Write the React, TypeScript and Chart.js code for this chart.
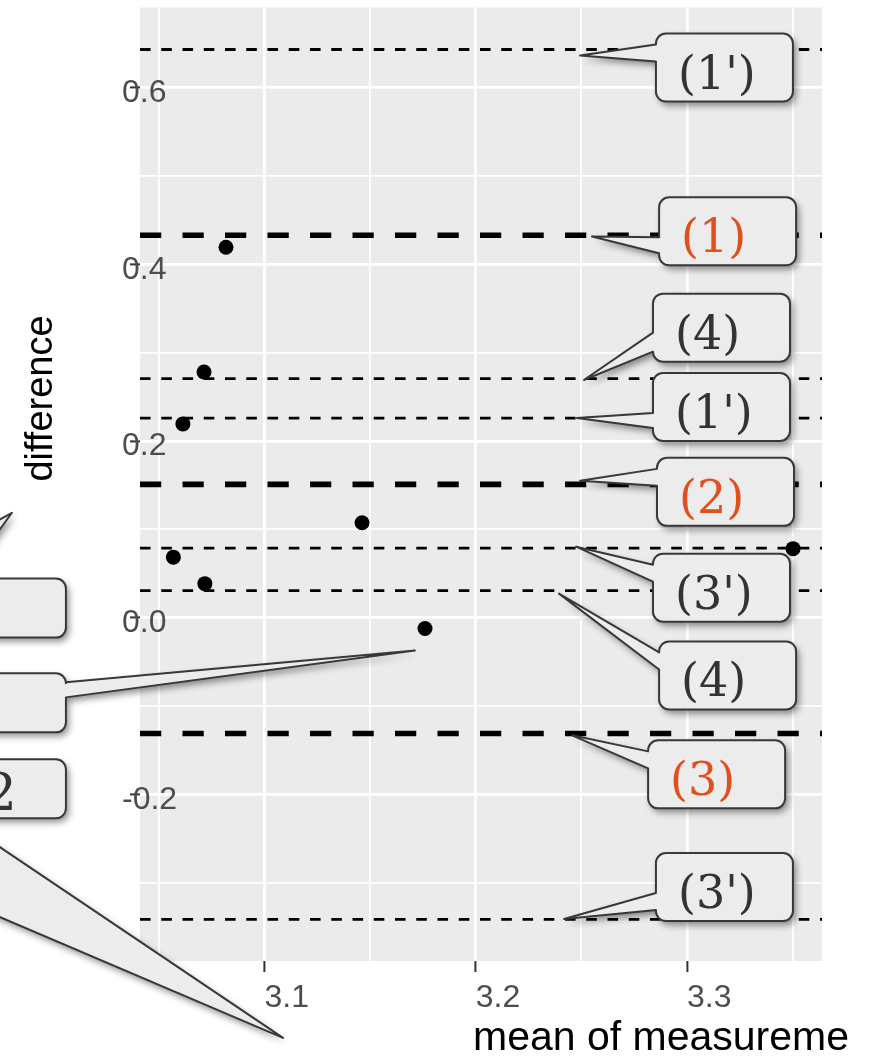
import React, { useEffect, useRef } from 'react';
import { Chart, registerables } from 'chart.js';

Chart.register(...registerables);

// ---------------- data ----------------
const X_MIN = 3.0411;
const X_MAX = 3.3639;
const Y_MIN = -0.3883;
const Y_MAX = 0.6904;

const X_MAJOR_TICKS = [3.1, 3.2, 3.3];
const X_TICK_LABELS = ['3.1', '3.2', '3.3'];
const X_MINOR_TICKS = [3.05, 3.15, 3.25, 3.35];
const Y_MAJOR_TICKS = [-0.2, 0.0, 0.2, 0.4, 0.6];
const Y_TICK_LABELS = ['-0.2', '0.0', '0.2', '0.4', '0.6'];
const Y_MINOR_TICKS = [-0.3, -0.1, 0.1, 0.3, 0.5];

// Bland-Altman points: mean of measurements vs difference
const MEAN_VALUES = [3.0818, 3.0714, 3.0614, 3.1462, 3.0569, 3.0718, 3.176, 3.3502];
const DIFF_VALUES = [0.4192, 0.2781, 0.2193, 0.1075, 0.0686, 0.0386, -0.0122, 0.0782];

// (1) upper limit, (2) mean difference, (3) lower limit
const LIMIT_LINES = [0.4327, 0.1509, -0.1309];
// confidence bounds: (1') x2, (4) x2, (3') x2
const CI_LINES = [0.6429, 0.2705, 0.2258, 0.0789, 0.0307, -0.3412];

const X_TITLE = 'mean of measureme';
const Y_TITLE = 'difference';

// callouts on the right (anchored in data coordinates)
const CALLOUT_LABELS = ["(1')", '(1)', '(4)', "(1')", '(2)', "(3')", '(4)', '(3)', "(3')"];
const CALLOUT_ACCENT = [false, true, false, false, true, false, false, true, false];
const CALLOUT_TIP_X = [3.2494, 3.255, 3.2512, 3.2479, 3.2494, 3.2475, 3.2394, 3.2456, 3.2418];
const CALLOUT_TIP_Y = [0.6361, 0.4313, 0.269, 0.2261, 0.155, 0.0804, 0.0273, -0.133, -0.3408];
const CALLOUT_BOX_X = [3.2853, 3.2868, 3.2839, 3.2839, 3.2858, 3.2839, 3.2868, 3.2816, 3.2853];
const CALLOUT_BOX_Y = [0.6609, 0.4757, 0.3667, 0.2769, 0.1809, 0.0725, -0.0268, -0.1387, -0.2662];

// cropped callouts on the left
const SIDE_BOX_X = 2.9412;
const SIDE_BOX_Y = [0.0443, -0.0629, -0.1601];
const SIDE_LABELS = ['', '', '2'];
const SIDE_TIP_X = [null, 3.1712, null];
const SIDE_TIP_Y = [null, -0.037, null];

// loose pointers whose boxes are outside the picture
const STRAY_TIP_X = [3.1088, 2.9805];
const STRAY_TIP_Y = [-0.4753, 0.1188];
const STRAY_BASE_X = [2.9653, 2.9653];
const STRAY_BASE_Y1 = [-0.2443, 0.0985];
const STRAY_BASE_Y2 = [-0.3289, 0.0691];

// ---------------- styles ----------------
const SANS = '"Liberation Sans", Arial, Helvetica, sans-serif';
const SERIF = '"DejaVu Serif", "Liberation Serif", serif';
const BOX_W = 137;
const BOX_H = 68;
const SIDE_BOX_H = 59;
const BOX_R = 10;
const CALLOUT_NECKS = [[11, 28], [40, 56], [39, 58], [40, 55], [11, 28], [11, 28], [11, 28], [11, 28], [40, 57]];
const SIDE_NECK = [9, 24];
const DARK_TEXT = '#333333';
const ACCENT_TEXT = '#E0501E';

const near = (a: number, b: number) => Math.abs(a - b) < 1e-6;
const isIn = (arr: number[], v: number) => arr.some((a) => near(a, v));

function calloutPath(
  ctx: CanvasRenderingContext2D,
  L: number, T: number, W: number, H: number, r: number,
  neck: { side: 'left' | 'right'; a1: number; a2: number; tx: number; ty: number } | null
) {
  const R = L + W;
  const B = T + H;
  ctx.beginPath();
  ctx.moveTo(L + r, T);
  ctx.lineTo(R - r, T);
  ctx.arcTo(R, T, R, T + r, r);
  if (neck && neck.side === 'right') {
    ctx.lineTo(R, T + neck.a1);
    ctx.lineTo(neck.tx, neck.ty);
    ctx.lineTo(R, T + neck.a2);
  }
  ctx.lineTo(R, B - r);
  ctx.arcTo(R, B, R - r, B, r);
  ctx.lineTo(L + r, B);
  ctx.arcTo(L, B, L, B - r, r);
  if (neck && neck.side === 'left') {
    ctx.lineTo(L, T + neck.a2);
    ctx.lineTo(neck.tx, neck.ty);
    ctx.lineTo(L, T + neck.a1);
  }
  ctx.lineTo(L, T + r);
  ctx.arcTo(L, T, L + r, T, r);
  ctx.closePath();
}

function paintShape(ctx: CanvasRenderingContext2D) {
  ctx.save();
  ctx.shadowColor = 'rgba(0,0,0,0.45)';
  ctx.shadowBlur = 7;
  ctx.shadowOffsetX = 3;
  ctx.shadowOffsetY = 4;
  ctx.fillStyle = '#ECECEC';
  ctx.fill();
  ctx.restore();
  ctx.lineWidth = 2;
  ctx.lineJoin = 'round';
  ctx.strokeStyle = '#383838';
  ctx.stroke();
}

const panelPlugin = {
  id: 'panelBg',
  beforeDraw(chart: any) {
    const { ctx, chartArea: a } = chart;
    ctx.save();
    ctx.fillStyle = '#EBEBEB';
    ctx.fillRect(a.left, a.top, a.right - a.left, a.bottom - a.top);
    ctx.restore();
  },
};

const overlayPlugin = {
  id: 'overlay',
  afterDraw(chart: any) {
    const { ctx } = chart;
    const xs = chart.scales.x;
    const ys = chart.scales.y;
    const px = (v: number) => xs.getPixelForValue(v);
    const py = (v: number) => ys.getPixelForValue(v);

    // axis titles
    ctx.save();
    ctx.fillStyle = '#000000';
    ctx.font = `41px ${SANS}`;
    ctx.textAlign = 'left';
    ctx.textBaseline = 'alphabetic';
    ctx.fillText(X_TITLE, 473, 1050);
    ctx.translate(52, 398.5);
    ctx.rotate(-Math.PI / 2);
    ctx.font = `38px ${SANS}`;
    ctx.textAlign = 'center';
    ctx.fillText(Y_TITLE, 0, 0);
    ctx.restore();

    // stray pointers
    for (let i = 0; i < STRAY_TIP_X.length; i++) {
      ctx.save();
      ctx.beginPath();
      ctx.moveTo(px(STRAY_BASE_X[i]), py(STRAY_BASE_Y1[i]));
      ctx.lineTo(px(STRAY_TIP_X[i]), py(STRAY_TIP_Y[i]));
      ctx.lineTo(px(STRAY_BASE_X[i]), py(STRAY_BASE_Y2[i]));
      ctx.closePath();
      paintShape(ctx);
      ctx.restore();
    }

    // left cropped callouts
    for (let i = 0; i < SIDE_BOX_Y.length; i++) {
      const L = px(SIDE_BOX_X);
      const T = py(SIDE_BOX_Y[i]);
      const tx = SIDE_TIP_X[i];
      const ty = SIDE_TIP_Y[i];
      ctx.save();
      calloutPath(
        ctx, L, T, BOX_W, SIDE_BOX_H, BOX_R,
        tx != null && ty != null
          ? { side: 'right', a1: SIDE_NECK[0], a2: SIDE_NECK[1], tx: px(tx), ty: py(ty) }
          : null
      );
      paintShape(ctx);
      if (SIDE_LABELS[i]) {
        ctx.fillStyle = DARK_TEXT;
        ctx.font = `52px ${SERIF}`;
        ctx.textAlign = 'right';
        ctx.textBaseline = 'alphabetic';
        ctx.fillText(SIDE_LABELS[i], L + BOX_W - 49, T + 51);
      }
      ctx.restore();
    }

    // right callouts
    for (let i = 0; i < CALLOUT_LABELS.length; i++) {
      const L = px(CALLOUT_BOX_X[i]);
      const T = py(CALLOUT_BOX_Y[i]);
      ctx.save();
      calloutPath(ctx, L, T, BOX_W, BOX_H, BOX_R, {
        side: 'left',
        a1: CALLOUT_NECKS[i][0],
        a2: CALLOUT_NECKS[i][1],
        tx: px(CALLOUT_TIP_X[i]),
        ty: py(CALLOUT_TIP_Y[i]),
      });
      paintShape(ctx);
      ctx.fillStyle = CALLOUT_ACCENT[i] ? ACCENT_TEXT : DARK_TEXT;
      ctx.font = `46px ${SERIF}`;
      ctx.textAlign = 'left';
      ctx.textBaseline = 'alphabetic';
      ctx.fillText(CALLOUT_LABELS[i], L + 22, T + 55);
      ctx.restore();
    }
  },
};

export default function App() {
  const ref = useRef<HTMLCanvasElement>(null);

  useEffect(() => {
    document.body.style.margin = '0';
    const canvas = ref.current;
    if (!canvas) return;

    const pointData = MEAN_VALUES.map((x, i) => ({ x, y: DIFF_VALUES[i] }));
    const hline = (v: number) => [{ x: X_MIN, y: v }, { x: X_MAX, y: v }];

    const datasets: any[] = [
      {
        label: 'points',
        data: pointData,
        showLine: false,
        pointRadius: 7.5,
        pointBackgroundColor: '#000000',
        pointBorderWidth: 0,
        pointHoverRadius: 7.5,
      },
      ...LIMIT_LINES.map((v) => ({
        label: 'limit',
        data: hline(v),
        showLine: true,
        borderColor: '#000000',
        borderWidth: 5.6,
        borderDash: [21.25, 21.25],
        pointRadius: 0,
        tension: 0,
      })),
      ...CI_LINES.map((v) => ({
        label: 'ci',
        data: hline(v),
        showLine: true,
        borderColor: '#000000',
        borderWidth: 2.8,
        borderDash: [10.6, 10.65],
        pointRadius: 0,
        tension: 0,
      })),
    ];

    const chart = new Chart(canvas, {
      type: 'scatter',
      data: { datasets },
      options: {
        animation: false,
        responsive: false,
        devicePixelRatio: 1,
        events: [],
        layout: { padding: { left: 122, top: 6, right: 47, bottom: 0 } },
        plugins: { legend: { display: false }, tooltip: { enabled: false } },
        scales: {
          x: {
            type: 'linear',
            position: 'bottom',
            min: X_MIN,
            max: X_MAX,
            afterBuildTicks: (s: any) => {
              s.ticks = [...X_MINOR_TICKS, ...X_MAJOR_TICKS]
                .sort((a, b) => a - b)
                .map((v) => ({ value: v }));
            },
            afterFit: (s: any) => {
              s.height = 96;
              s.paddingLeft = 0;
              s.paddingRight = 0;
            },
            border: { display: false },
            grid: {
              color: '#FFFFFF',
              lineWidth: (c: any) => (c.tick && isIn(X_MAJOR_TICKS, c.tick.value) ? 2.8 : 1.8),
              tickLength: 11,
              tickWidth: (c: any) => (c.tick && isIn(X_MAJOR_TICKS, c.tick.value) ? 2 : 0),
              tickColor: (c: any) => (c.tick && isIn(X_MAJOR_TICKS, c.tick.value) ? '#333333' : 'rgba(0,0,0,0)'),
            },
            ticks: {
              autoSkip: false,
              maxRotation: 0,
              minRotation: 0,
              align: 'start',
              padding: 7,
              color: '#4D4D4D',
              font: { family: SANS, size: 32 },
              callback: (v: any) => {
                const idx = X_MAJOR_TICKS.findIndex((m) => near(m, Number(v)));
                return idx >= 0 ? X_TICK_LABELS[idx] : '';
              },
            },
          },
          y: {
            type: 'linear',
            position: 'left',
            min: Y_MIN,
            max: Y_MAX,
            afterBuildTicks: (s: any) => {
              s.ticks = [...Y_MINOR_TICKS, ...Y_MAJOR_TICKS]
                .sort((a, b) => a - b)
                .map((v) => ({ value: v }));
            },
            afterFit: (s: any) => {
              s.width = 18;
              s.paddingTop = 0;
              s.paddingBottom = 0;
            },
            border: { display: false },
            grid: {
              color: '#FFFFFF',
              lineWidth: (c: any) => (c.tick && isIn(Y_MAJOR_TICKS, c.tick.value) ? 2.8 : 1.8),
              tickLength: 10,
              tickWidth: (c: any) => (c.tick && isIn(Y_MAJOR_TICKS, c.tick.value) ? 2 : 0),
              tickColor: (c: any) => (c.tick && isIn(Y_MAJOR_TICKS, c.tick.value) ? '#333333' : 'rgba(0,0,0,0)'),
            },
            ticks: {
              autoSkip: false,
              mirror: true,
              crossAlign: 'near',
              labelOffset: 5.5,
              padding: -18,
              color: '#4D4D4D',
              font: { family: SANS, size: 32 },
              callback: (v: any) => {
                const idx = Y_MAJOR_TICKS.findIndex((m) => near(m, Number(v)));
                return idx >= 0 ? Y_TICK_LABELS[idx] : '';
              },
            },
          },
        },
      } as any,
      plugins: [panelPlugin, overlayPlugin],
    });

    return () => chart.destroy();
  }, []);

  return (
    <div style={{ position: 'absolute', left: 0, top: 0, width: 869, height: 1057 }}>
      <canvas ref={ref} width={869} height={1057} style={{ display: 'block' }} />
    </div>
  );
}
